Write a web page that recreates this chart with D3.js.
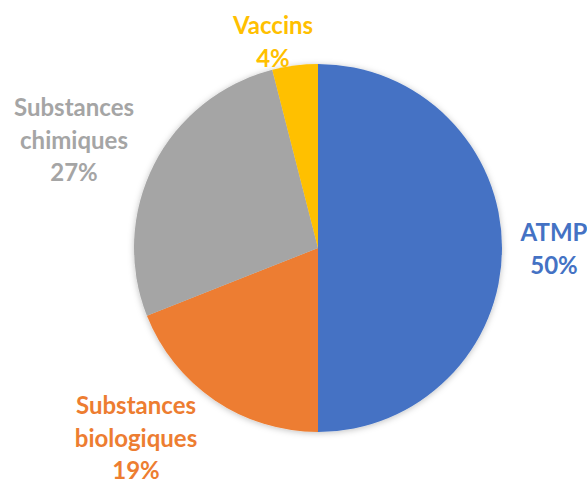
<!DOCTYPE html>
<html lang="fr">
<head>
<meta charset="utf-8">
<title>Répartition</title>
<script src="https://d3js.org/d3.v7.min.js"></script>
<style>
  body { margin: 0; background: #fff; }
  .lbl { font-family: Lato, "Open Sans", sans-serif; font-weight: bold; font-size: 24px; }
</style>
</head>
<body>
<div id="chart"></div>
<script>
// data
var categories = ["ATMP", "Substances biologiques", "Substances chimiques", "Vaccins"];
var labelLines = [["ATMP"], ["Substances", "biologiques"], ["Substances", "chimiques"], ["Vaccins"]];
var values = [50, 19, 27, 4];
var colors = ["#4472C4", "#ED7D31", "#A5A5A5", "#FFC000"];

// label block: x centre, baseline of the first line
var labelAt = [[554, 241], [136, 414], [74, 116], [273, 34]];

var width = 587, height = 484;
var cx = 318, cy = 248, radius = 184;
var lineH = 32.5;

var svg = d3.select("#chart").append("svg")
    .attr("width", width)
    .attr("height", height);

var defs = svg.append("defs");
var f = defs.append("filter").attr("id", "shadow")
    .attr("x", "-10%").attr("y", "-10%").attr("width", "120%").attr("height", "120%");
f.append("feDropShadow")
    .attr("dx", 0).attr("dy", 1)
    .attr("stdDeviation", 3)
    .attr("flood-color", "#000")
    .attr("flood-opacity", 0.25);

var pie = d3.pie().sort(null).value(function(d) { return d; });
var arc = d3.arc().innerRadius(0).outerRadius(radius);

var g = svg.append("g")
    .attr("transform", "translate(" + cx + "," + cy + ")");

g.append("g").attr("filter", "url(#shadow)")
  .selectAll("path")
  .data(pie(values))
  .enter()
  .append("path")
    .attr("d", arc)
    .attr("fill", function(d, i) { return colors[i]; });

// labels
categories.forEach(function(c, i) {
  var lines = labelLines[i].concat([values[i] + "%"]);
  var t = svg.append("text")
      .attr("class", "lbl")
      .attr("text-anchor", "middle")
      .attr("fill", colors[i]);
  lines.forEach(function(s, j) {
    t.append("tspan")
      .attr("x", labelAt[i][0])
      .attr("y", labelAt[i][1] + j * lineH)
      .text(s);
  });
});
</script>
</body>
</html>
